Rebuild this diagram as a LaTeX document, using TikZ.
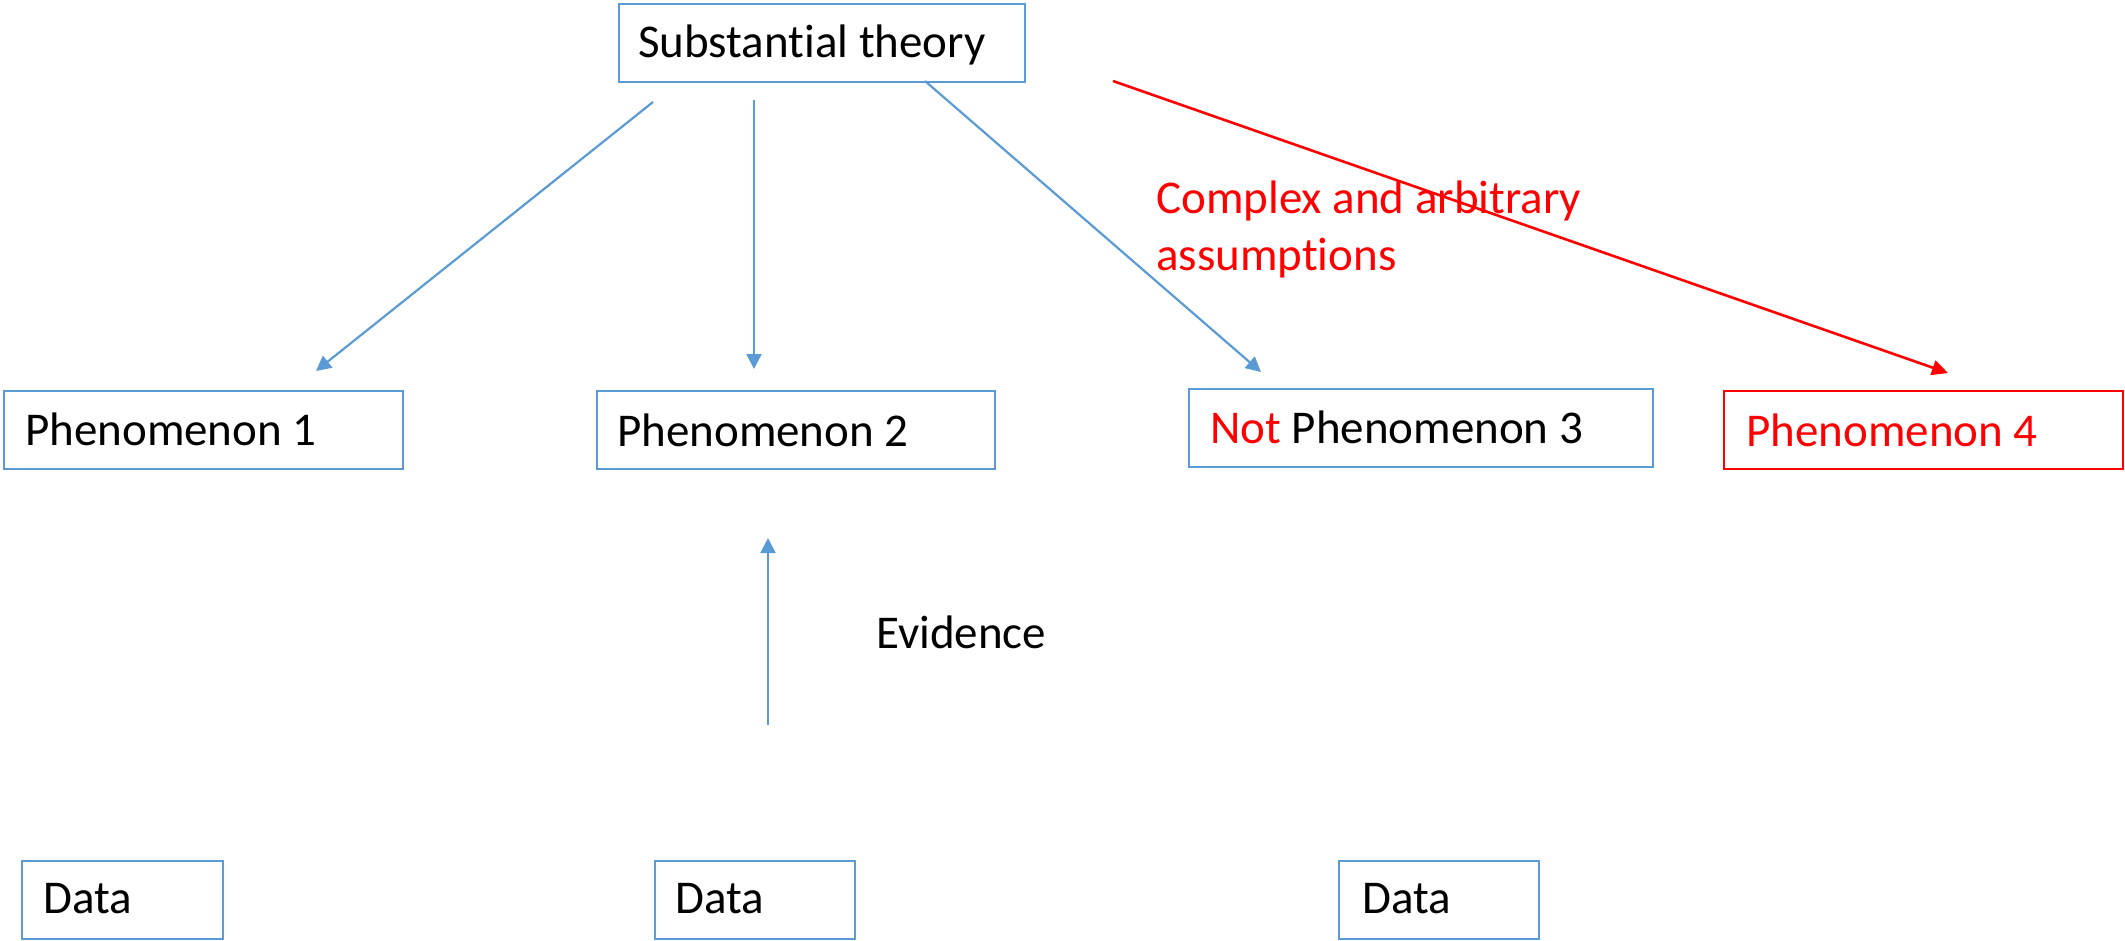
\documentclass[tikz,border=0pt]{standalone}
\usepackage{fontspec}
\setmainfont{Carlito}[Ligatures=NoCommon,Contextuals=NoAlternate]
\usetikzlibrary{arrows.meta}
\definecolor{bl}{HTML}{5B9BD5}
\definecolor{rd}{HTML}{FF0000}
\begin{document}
\begin{tikzpicture}[x=1pt,y=-1pt,
  every node/.style={font=\fontsize{47}{56}\selectfont},
  box/.style={draw=bl,line width=2pt,anchor=north west,inner sep=0pt,minimum height=78pt},
  redbox/.style={box,draw=rd},
  conn/.style={draw=bl,line width=2.2pt,-{Triangle[length=15pt,width=15pt]}},
  redconn/.style={draw=rd,line width=2.6pt,-{Triangle[length=16pt,width=15pt]}},
  lbl/.style={anchor=base west,inner sep=0pt}]
\useasboundingbox (0,0) rectangle (2125,940);
% boxes
\node[box,minimum width=406pt] (st) at (618,3) {};
\node[box,minimum width=399pt] (p1) at (3,390) {};
\node[box,minimum width=398pt] (p2) at (596,390) {};
\node[box,minimum width=464pt] (p3) at (1188,388) {};
\node[redbox,minimum width=399pt] (p4) at (1723,390) {};
\node[box,minimum width=201pt] (d1) at (21,860) {};
\node[box,minimum width=200pt] (d2) at (654,860) {};
\node[box,minimum width=200pt] (d3) at (1338,860) {};
% box texts
\node[lbl] (tst) at (638,57) {Substantial theory};
\node[lbl] (tp1) at (25,445) {Phenomenon 1};
\node[lbl] (tp2) at (617,446) {Phenomenon 2};
\node[lbl] (tp3) at (1210,443) {\textcolor{rd}{Not} Phenomenon 3};
\node[lbl,text=rd] (tp4) at (1746,446) {Phenomenon 4};
\node[lbl] (td1) at (43,913) {Data};
\node[lbl] (td2) at (675,913) {Data};
\node[lbl] (td3) at (1362,913) {Data};
% labels
\node[lbl] (ev) at (876,648) {Evidence};
\node[lbl,text=rd] (cx) at (1156,213) {Complex and arbitrary};
\node[lbl,text=rd] (cx2) at (1156,270) {assumptions};
% coordinates
\coordinate (a1s) at (653,102);
\coordinate (a1e) at (316,371);
\coordinate (a2s) at (754,100);
\coordinate (a2e) at (754,369);
\coordinate (a3s) at (925,81);
\coordinate (a3e) at (1261,372);
\coordinate (rs) at (1113,81);
\coordinate (re) at (1948,373);
\coordinate (es) at (768,725);
\coordinate (ee) at (768,538);
% connectors
\draw[conn] (a1s) -- (a1e);
\draw[conn] (a2s) -- (a2e);
\draw[conn] (a3s) -- (a3e);
\draw[redconn] (rs) -- (re);
\draw[conn] (es) -- (ee);
\end{tikzpicture}
\end{document}
